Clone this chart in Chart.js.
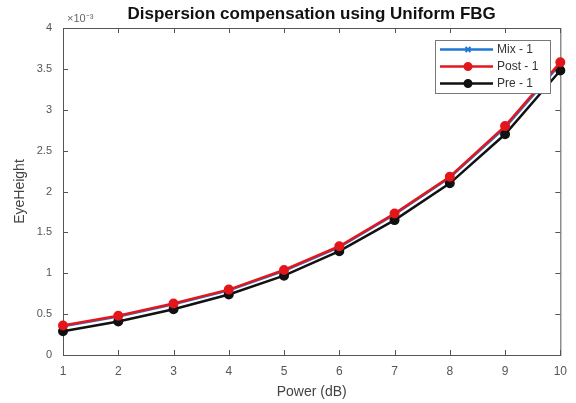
<!DOCTYPE html>
<html lang="en">
<head>
    <meta charset="UTF-8">
    <title>Dispersion compensation using Uniform FBG</title>
    <style>
        html, body { margin: 0; padding: 0; background: #fff; }
        .chart-container { width: 576px; height: 403px; }
    </style>
</head>
<body>
    <div class="chart-container">
        <canvas id="eyeChart" width="576" height="403"></canvas>
    </div>

    <script src="https://cdn.jsdelivr.net/npm/chart.js"></script>
    <script>
        // power in dB, eye height in units of 1e-3
        const powerDb = [1, 2, 3, 4, 5, 6, 7, 8, 9, 10];
        const mixValues = [0.35, 0.47, 0.62, 0.79, 1.03, 1.32, 1.72, 2.17, 2.78, 3.56];
        const postValues = [0.36, 0.48, 0.63, 0.80, 1.04, 1.33, 1.73, 2.18, 2.80, 3.58];
        const preValues = [0.29, 0.41, 0.56, 0.74, 0.97, 1.27, 1.65, 2.10, 2.70, 3.48];
        const seriesNames = ['Mix - 1', 'Post - 1', 'Pre - 1'];
        const yTicks = [0, 0.5, 1, 1.5, 2, 2.5, 3, 3.5, 4];

        const fontFamily = '"Liberation Sans", Arial, sans-serif';
        const markers = ['crossRot', 'circle', 'circle'];
        const colors = ['#1f77d4', '#e3161c', '#111111'];
        const drawOrder = [2, 0, 1];

        function toPoints(vals) {
            return powerDb.map((x, i) => ({ x: x, y: vals[i] }));
        }

        // matlab style box, inward ticks, title, exponent
        const matlabBox = {
            id: 'matlabBox',
            beforeDatasetsDraw(chart) {
                const ctx = chart.ctx;
                const a = chart.chartArea;
                const xs = chart.scales.x;
                const ys = chart.scales.y;
                ctx.save();
                ctx.strokeStyle = '#555';
                ctx.lineWidth = 1;
                ctx.strokeRect(a.left + 0.5, a.top + 0.5, a.right - a.left, a.bottom - a.top);
                ctx.beginPath();
                powerDb.forEach(v => {
                    const px = Math.round(xs.getPixelForValue(v)) + 0.5;
                    ctx.moveTo(px, a.bottom); ctx.lineTo(px, a.bottom - 5);
                    ctx.moveTo(px, a.top); ctx.lineTo(px, a.top + 5);
                });
                yTicks.forEach(v => {
                    const py = Math.round(ys.getPixelForValue(v)) + 0.5;
                    ctx.moveTo(a.left, py); ctx.lineTo(a.left + 5, py);
                    ctx.moveTo(a.right, py); ctx.lineTo(a.right - 5, py);
                });
                ctx.stroke();

                // title
                ctx.fillStyle = '#111';
                ctx.font = 'bold 17px ' + fontFamily;
                ctx.textAlign = 'center';
                ctx.textBaseline = 'middle';
                ctx.fillText('Dispersion compensation using Uniform FBG', (a.left + a.right) / 2, 14);

                // exponent
                ctx.fillStyle = '#666';
                ctx.font = '11px ' + fontFamily;
                ctx.textAlign = 'left';
                ctx.fillText('×10⁻³', a.left + 4, 19);
                ctx.restore();
            },
            afterDraw(chart) {
                // legend box
                const ctx = chart.ctx;
                ctx.save();
                const lx = 435, ly = 40, lw = 115, lh = 53;
                ctx.fillStyle = '#fff';
                ctx.fillRect(lx, ly, lw, lh);
                ctx.strokeStyle = '#777';
                ctx.lineWidth = 1;
                ctx.strokeRect(lx + 0.5, ly + 0.5, lw, lh);
                ctx.textBaseline = 'middle';
                chart.data.datasets.forEach((ds, i) => {
                    const cy = ly + 9.5 + i * 17;
                    ctx.strokeStyle = ds.borderColor;
                    ctx.fillStyle = ds.borderColor;
                    ctx.lineWidth = 2.5;
                    ctx.beginPath();
                    ctx.moveTo(lx + 5, cy); ctx.lineTo(lx + 58, cy);
                    ctx.stroke();
                    ctx.lineWidth = 2;
                    Chart.helpers.drawPoint(ctx, {
                        pointStyle: ds.pointStyle, radius: 3.5, borderWidth: 2
                    }, lx + 33, cy);
                    ctx.fillStyle = '#333';
                    ctx.font = '12px ' + fontFamily;
                    ctx.textAlign = 'left';
                    ctx.fillText(ds.label, lx + 62, cy);
                });
                ctx.restore();
            }
        };

        const datasets = [mixValues, postValues, preValues].map((vals, i) => ({
            label: seriesNames[i],
            data: toPoints(vals),
            order: drawOrder[i],
            borderColor: colors[i],
            backgroundColor: colors[i],
            pointBackgroundColor: colors[i],
            pointBorderColor: colors[i],
            pointStyle: markers[i],
            pointRadius: 4,
            pointBorderWidth: 2,
            borderWidth: 2.5,
            tension: 0,
            clip: false
        }));

        new Chart(document.getElementById('eyeChart'), {
            type: 'line',
            data: { datasets: datasets },
            options: {
                responsive: false,
                animation: false,
                maintainAspectRatio: false,
                layout: { padding: { top: 28, right: 13, left: 0, bottom: 0 } },
                plugins: {
                    legend: { display: false },
                    title: { display: false },
                    tooltip: { enabled: false }
                },
                scales: {
                    x: {
                        type: 'linear',
                        min: 1,
                        max: 10,
                        afterBuildTicks: s => { s.ticks = powerDb.map(v => ({ value: v })); },
                        afterFit: s => { s.height = 48; },
                        grid: { display: false, drawTicks: false, tickLength: 0 },
                        border: { display: false },
                        ticks: {
                            color: '#555', padding: 9,
                            font: { family: fontFamily, size: 12 },
                            callback: v => String(v)
                        },
                        title: {
                            display: true,
                            text: 'Power (dB)',
                            color: '#444',
                            padding: { top: 0, bottom: 2 },
                            font: { family: fontFamily, size: 14 }
                        }
                    },
                    y: {
                        min: 0,
                        max: 4,
                        afterBuildTicks: s => { s.ticks = yTicks.map(v => ({ value: v })); },
                        afterFit: s => { s.width = 63; },
                        grid: { display: false, drawTicks: false, tickLength: 0 },
                        border: { display: false },
                        ticks: {
                            color: '#555', padding: 11,
                            font: { family: fontFamily, size: 11 },
                            callback: v => String(v)
                        },
                        title: {
                            display: true,
                            text: 'EyeHeight',
                            color: '#444',
                            padding: { top: 12, bottom: 0 },
                            font: { family: fontFamily, size: 14 }
                        }
                    }
                }
            },
            plugins: [matlabBox]
        });
    </script>
</body>
</html>
